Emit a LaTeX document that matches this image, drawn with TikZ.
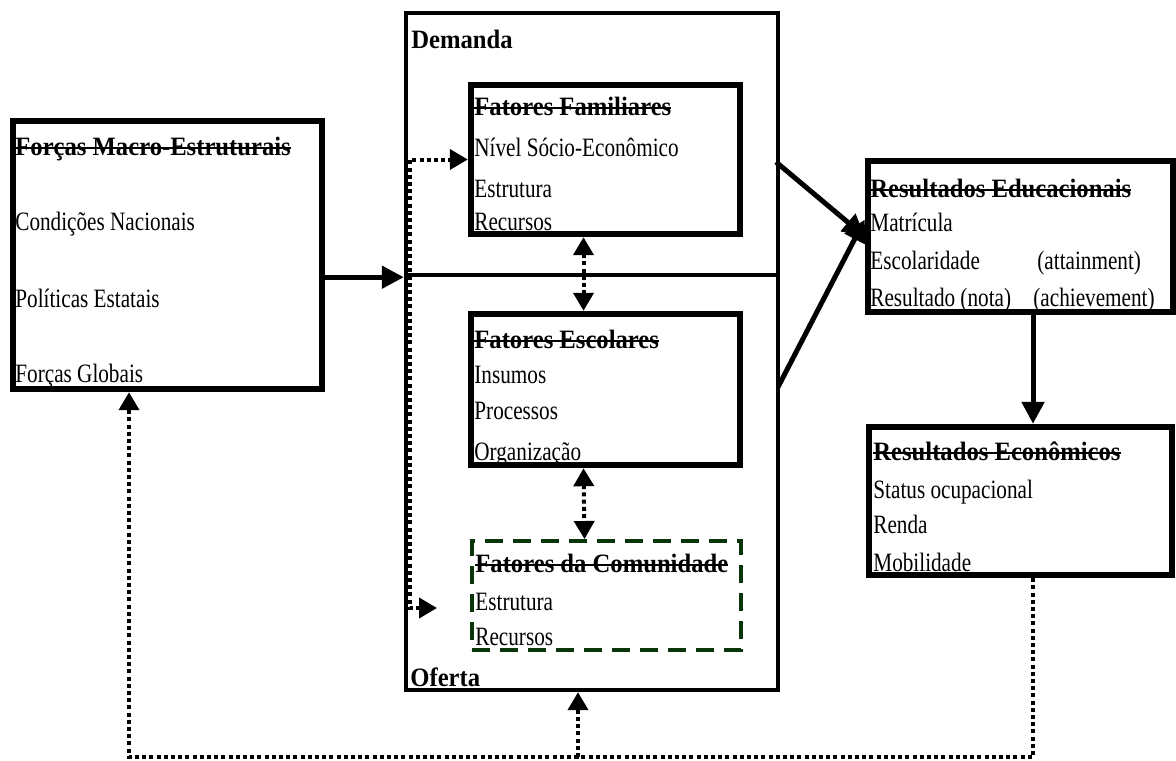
\documentclass[tikz,border=0pt]{standalone}
\usepackage{fontspec}
\setmainfont{Liberation Serif}[FakeStretch=0.8]
\newfontfamily\headfont{Liberation Serif}[FakeStretch=0.93]
\usetikzlibrary{arrows.meta, positioning, fit}

\definecolor{verdeescuro}{RGB}{10,52,10}
% titulo riscado
\newcommand{\riscado}[1]{\setbox0\hbox{\headfont\bfseries #1}\rlap{\rule[3pt]{\wd0}{0.9pt}}\box0}

\tikzset{
  caixa/.style={draw, line width=3.2pt, inner sep=0pt},
  quadro/.style={draw, line width=2.2pt, inner sep=0pt},
  comunbox/.style={draw=verdeescuro, line width=2pt, dash pattern=on 9pt off 5pt, inner sep=0pt},
  txt/.style={anchor=base west, inner sep=0pt, font=\fontsize{13.25}{15}\selectfont},
  seta/.style={-{Triangle[length=11pt,width=11pt]}, line width=2.5pt},
  pontilhado/.style={line width=2pt, dash pattern=on 2pt off 1.6pt},
  ponta/.tip={Triangle[length=9pt,width=10pt]}
}

\begin{document}
\begin{tikzpicture}[x=0.5pt, y=-0.5pt]
  \useasboundingbox (0,0) rectangle (1176,760);

  % caixas
  \node[caixa, fit={(13,121) (322,389)}] (macro) {};
  \node[quadro, fit={(406,13) (778,275)}] (demanda) {};
  \node[quadro, fit={(406,275) (778,690)}] (oferta) {};
  \node[caixa, fit={(471,85) (740,234)}] (familiar) {};
  \node[caixa, fit={(471,314) (740,465)}] (escolar) {};
  \node[comunbox, fit={(472,541) (741,650)}] (comunidade) {};
  \node[caixa, fit={(868,161) (1173,312)}] (edu) {};
  \node[caixa, fit={(869,427) (1172,575)}] (eco) {};

  % textos
  \node[txt] (macroTit) at (15,155) {\riscado{Forças Macro-Estruturais}};
  \node[txt] (macroA) at (15,230) {Condições Nacionais};
  \node[txt] (macroB) at (15,307) {Políticas Estatais};
  \node[txt] (macroC) at (15,382) {Forças Globais};

  \node[txt] (demandaTit) at (411,48) {\headfont\bfseries Demanda};
  \node[txt] (ofertaTit) at (410,686) {\headfont\bfseries Oferta};

  \node[txt] (familiarTit) at (474,115) {\riscado{Fatores Familiares}};
  \node[txt] (familiarA) at (474,156) {Nível Sócio-Econômico};
  \node[txt] (familiarB) at (474,197) {Estrutura};
  \node[txt] (familiarC) at (474,230) {Recursos};

  \node[txt] (escolarTit) at (474,348) {\riscado{Fatores Escolares}};
  \node[txt] (escolarA) at (474,383) {Insumos};
  \node[txt] (escolarB) at (474,419) {Processos};
  \node[txt] (escolarC) at (474,460) {Organização};

  \node[txt] (comunidadeTit) at (475,572) {\riscado{Fatores da Comunidade}};
  \node[txt] (comunidadeA) at (475,610) {Estrutura};
  \node[txt] (comunidadeB) at (475,645) {Recursos};

  \node[txt] (eduTit) at (870,197) {\riscado{Resultados Educacionais}};
  \node[txt] (eduA) at (870,231) {Matrícula};
  \node[txt] (eduB) at (870,269) {Escolaridade};
  \node[txt] (eduC) at (870,306) {Resultado (nota)};
  \node[txt] (eduD) at (1037,269) {(attainment)};
  \node[txt] (eduE) at (1033,306) {(achievement)};

  \node[txt] (ecoTit) at (873,460) {\riscado{Resultados Econômicos}};
  \node[txt] (ecoA) at (873,498) {Status ocupacional};
  \node[txt] (ecoB) at (873,533) {Renda};
  \node[txt] (ecoC) at (873,571) {Mobilidade};

  % setas cheias
  \coordinate (saidaA) at (776,162);
  \coordinate (saidaB) at (778,387);
  \draw[seta] (macro.east |- demanda.south west) -- (demanda.south west);
  \draw[seta] (saidaA) -- (edu.west);
  \draw[seta] (saidaB) -- ([yshift=8.5pt]edu.west);
  \draw[seta] ([xshift=6.25pt]edu.south) -- ([xshift=6.25pt]eco.north);

  % setas pontilhadas
  \coordinate (pontaC) at (437,608);
  \coordinate (base) at (578,757);
  \draw[pontilhado, ponta-ponta] ([xshift=-11pt]familiar.south) -- ([xshift=-11pt]escolar.north);
  \draw[pontilhado, ponta-ponta] ([xshift=-11pt]escolar.south) -- ([xshift=-11pt]comunidade.north);
  \draw[pontilhado, ponta-ponta] (pontaC) -- ++(-13.5pt,0) |- (familiar.west);
  \draw[pontilhado, -ponta] ([xshift=6.25pt]eco.south) |- (base) -| ([xshift=-19.25pt]macro.south);
  \draw[pontilhado, -ponta] (base) -- ([xshift=-7pt]oferta.south);
\end{tikzpicture}
\end{document}
